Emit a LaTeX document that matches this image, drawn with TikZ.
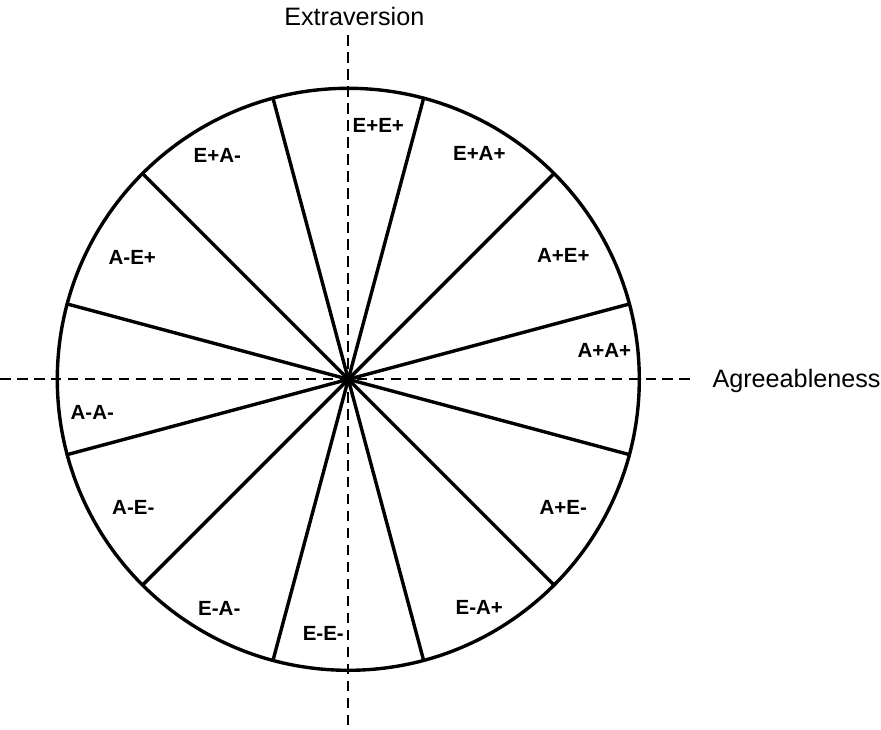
\documentclass[tikz,border=0pt]{standalone}
\usepackage{fontspec}
\setmainfont{Liberation Sans}
\usepackage{tikz}
\tikzset{
  sector/.style={font=\fontsize{17.5}{20}\selectfont\bfseries, inner sep=0pt},
  axislabel/.style={font=\fontsize{21.5}{24}\selectfont, inner sep=0pt},
  axis/.style={line width=1.8pt, dash pattern=on 9pt off 5.5pt}
}

\begin{document}
\begin{tikzpicture}[scale=0.3]
\useasboundingbox (-34.83,-35.07) rectangle (53.27,37.93);
\coordinate (O) at (0,0);
\coordinate (xleft) at (-34.83,0);
\coordinate (xright) at (34.5,0);
\coordinate (ytop) at (0,34.4);
\coordinate (ybottom) at (0,-35.07);
\draw [axis] (xleft) -- (xright);
\draw [axis] (ytop) -- (ybottom);
\draw [line width=2.9pt] (O) circle (29.1);
\foreach \a in {15,45,...,345}
  \draw [line width=2.9pt, line cap=round] (O) -- (\a:29.1);
% sector labels
\node [sector] (EpEp) at (3.0,25.4) {E+E+};
\node [sector] (EpAp) at (13.1,22.6) {E+A+};
\node [sector] (ApEp) at (21.5,12.4) {A+E+};
\node [sector] (ApAp) at (25.6,2.9) {A+A+};
\node [sector] (ApEm) at (21.5,-12.8) {A+E-};
\node [sector] (EmAp) at (13.1,-22.8) {E-A+};
\node [sector] (EmEm) at (-2.5,-25.4) {E-E-};
\node [sector] (EmAm) at (-12.9,-22.9) {E-A-};
\node [sector] (AmEm) at (-21.5,-12.8) {A-E-};
\node [sector] (AmAm) at (-25.6,-3.3) {A-A-};
\node [sector] (AmEp) at (-21.6,12.2) {A-E+};
\node [sector] (EpAm) at (-13.1,22.4) {E+A-};
% axis labels
\node [axislabel, anchor=base] (extra) at (0.6,35.4) {Extraversion};
\node [axislabel, anchor=base west] (agree) at (36.4,-0.8) {Agreeableness};
\end{tikzpicture}
\end{document}
